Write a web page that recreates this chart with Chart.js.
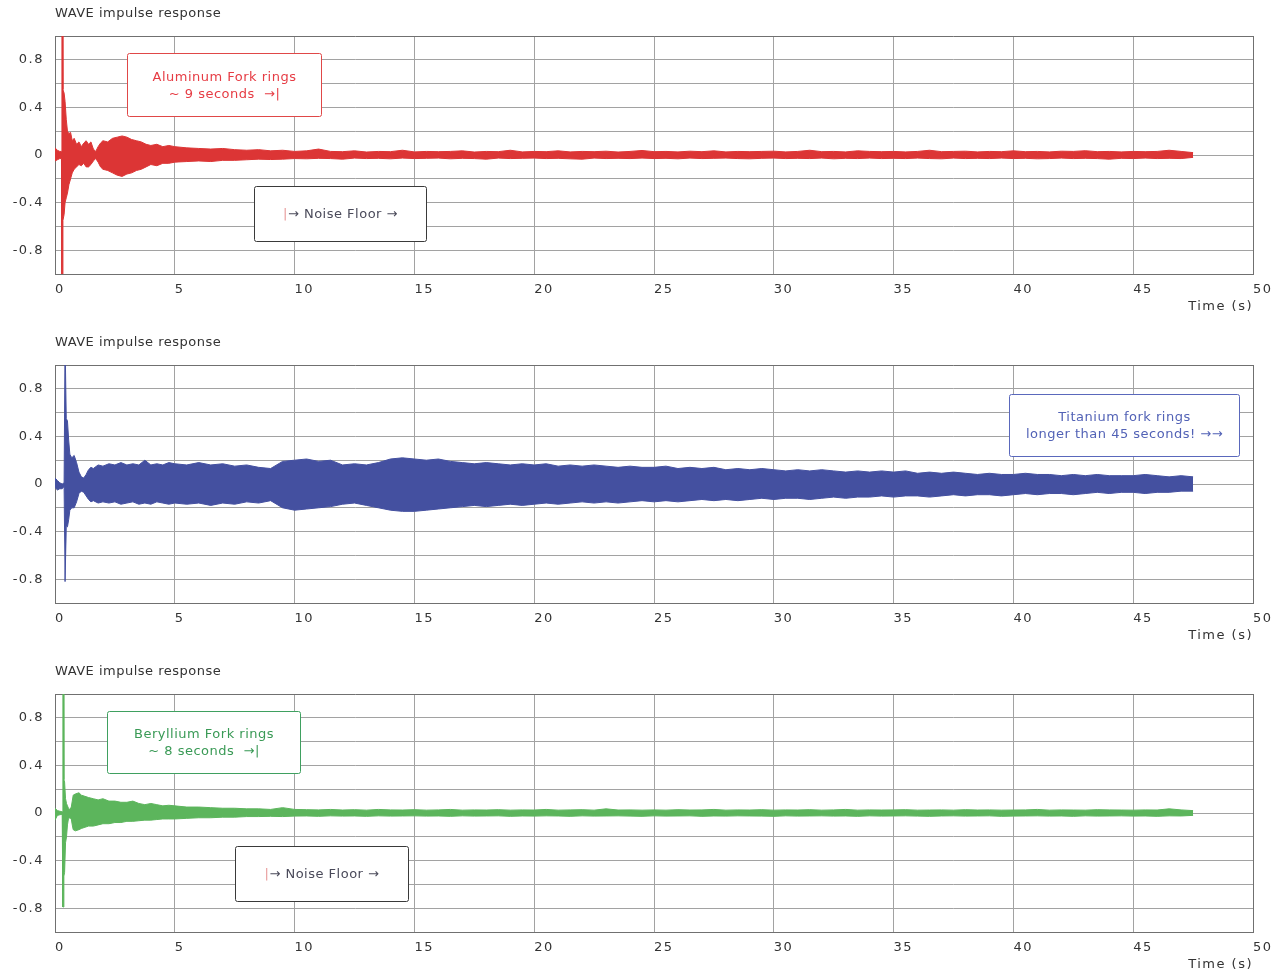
<!DOCTYPE html>
<html>
<head>
<meta charset="utf-8">
<script src="https://cdn.jsdelivr.net/npm/chart.js@4/dist/chart.umd.min.js"></script>
<style>
  html, body { margin: 0; padding: 0; background: #fff; overflow: hidden; }
  .panel { position: absolute; left: 0; width: 1282px; height: 329px; }
</style>
</head>
<body>
<div class="panel" style="top:0px"><canvas id="c1" width="1282" height="329"></canvas></div>
<div class="panel" style="top:329px"><canvas id="c2" width="1282" height="329"></canvas></div>
<div class="panel" style="top:658px"><canvas id="c3" width="1282" height="329"></canvas></div>
<script>
// ---------- DATA (envelope of each impulse response) ----------
const chartTitle = 'WAVE impulse response';
const xAxisTitle = 'Time (s)';
const xTicks = [0, 5, 10, 15, 20, 25, 30, 35, 40, 45, 50];
const yTickLabels = ['-0.8', '-0.4', '0', '0.4', '0.8'];

// shared sample times for the long tail (s)
const tailTime = [
  5, 5.5, 6, 6.5, 7, 7.5, 8, 8.5, 9, 9.5,
  10, 10.5, 11, 11.5, 12, 12.5, 13, 13.5, 14, 14.5,
  15, 15.5, 16, 16.5, 17, 17.5, 18, 18.5, 19, 19.5,
  20, 20.5, 21, 21.5, 22, 22.5, 23, 23.5, 24, 24.5,
  25, 25.5, 26, 26.5, 27, 27.5, 28, 28.5, 29, 29.5,
  30, 30.5, 31, 31.5, 32, 32.5, 33, 33.5, 34, 34.5,
  35, 35.5, 36, 36.5, 37, 37.5, 38, 38.5, 39, 39.5,
  40, 40.5, 41, 41.5, 42, 42.5, 43, 43.5, 44, 44.5,
  45, 45.5, 46, 46.5, 47, 47.5
];

// Aluminum (red)
const alumHeadTime = [0, 0.1, 0.2, 0.27, 0.29, 0.31, 0.33, 0.38, 0.42, 0.47, 0.52, 0.58, 0.65, 0.72, 0.8, 0.9, 1.0, 1.1, 1.2, 1.3, 1.4, 1.5, 1.6, 1.7, 1.8, 1.9, 2.0, 2.2, 2.4, 2.6, 2.8, 3.0, 3.2, 3.4, 3.6, 3.8, 4.0, 4.25, 4.5, 4.75];
const alumHeadHigh = [0.06, 0.04, 0.03, 0.03, 1.2, 1.2, 0.55, 0.52, 0.45, 0.3, 0.2, 0.18, 0.19, 0.12, 0.14, 0.09, 0.11, 0.07, 0.1, 0.12, 0.09, 0.11, 0.05, 0.03, 0.07, 0.1, 0.12, 0.11, 0.14, 0.15, 0.16, 0.15, 0.13, 0.12, 0.11, 0.09, 0.08, 0.09, 0.07, 0.08];
const alumHeadLow = [-0.05, -0.04, -0.03, -0.03, -1.2, -1.2, -0.55, -0.5, -0.4, -0.36, -0.32, -0.25, -0.2, -0.15, -0.12, -0.1, -0.08, -0.09, -0.07, -0.1, -0.1, -0.08, -0.05, -0.03, -0.06, -0.1, -0.12, -0.13, -0.15, -0.17, -0.18, -0.16, -0.15, -0.13, -0.12, -0.1, -0.08, -0.09, -0.07, -0.07];
const alumTailHigh = [
  0.07, 0.06, 0.055, 0.05, 0.055, 0.045, 0.04, 0.045, 0.035, 0.04,
  0.03, 0.035, 0.05, 0.03, 0.028, 0.035, 0.025, 0.03, 0.028, 0.04,
  0.026, 0.03, 0.028, 0.03, 0.035, 0.025, 0.03, 0.028, 0.04, 0.026,
  0.03, 0.028, 0.035, 0.026, 0.03, 0.028, 0.032, 0.025, 0.03, 0.038,
  0.028, 0.03, 0.026, 0.032, 0.028, 0.035, 0.026, 0.03, 0.028, 0.03,
  0.032, 0.026, 0.03, 0.04, 0.028, 0.03, 0.026, 0.035, 0.03, 0.028,
  0.03, 0.026, 0.03, 0.04, 0.028, 0.03, 0.032, 0.026, 0.03, 0.028,
  0.035, 0.028, 0.03, 0.026, 0.032, 0.03, 0.036, 0.028, 0.03, 0.026,
  0.03, 0.028, 0.03, 0.04, 0.03, 0.02
];
const alumTailLow = [
  -0.06, -0.055, -0.05, -0.055, -0.045, -0.045, -0.04, -0.035, -0.038, -0.035,
  -0.03, -0.032, -0.028, -0.03, -0.035, -0.026, -0.03, -0.028, -0.032, -0.026,
  -0.03, -0.028, -0.026, -0.032, -0.028, -0.03, -0.035, -0.026, -0.03, -0.028,
  -0.026, -0.03, -0.028, -0.032, -0.035, -0.026, -0.03, -0.028, -0.03, -0.026,
  -0.03, -0.028, -0.032, -0.026, -0.03, -0.028, -0.026, -0.03, -0.032, -0.028,
  -0.026, -0.03, -0.028, -0.03, -0.026, -0.032, -0.028, -0.03, -0.026, -0.03,
  -0.028, -0.03, -0.026, -0.03, -0.032, -0.026, -0.03, -0.028, -0.03, -0.026,
  -0.03, -0.028, -0.032, -0.03, -0.026, -0.03, -0.028, -0.03, -0.035, -0.028,
  -0.03, -0.026, -0.03, -0.028, -0.03, -0.02
];

// Titanium (blue)
const titHeadTime = [0, 0.1, 0.2, 0.3, 0.38, 0.42, 0.44, 0.47, 0.52, 0.57, 0.62, 0.7, 0.8, 0.9, 1.0, 1.1, 1.2, 1.3, 1.4, 1.5, 1.6, 1.8, 2.0, 2.25, 2.5, 2.75, 3.0, 3.25, 3.5, 3.75, 4.0, 4.25, 4.5, 4.75];
const titHeadHigh = [0.05, 0.03, 0.01, 0.0, 0.01, 1.2, 1.2, 0.55, 0.53, 0.37, 0.25, 0.22, 0.24, 0.18, 0.1, 0.06, 0.05, 0.08, 0.12, 0.14, 0.13, 0.16, 0.15, 0.17, 0.16, 0.18, 0.16, 0.17, 0.16, 0.2, 0.16, 0.17, 0.16, 0.18];
const titHeadLow = [-0.03, -0.05, -0.04, -0.04, -0.02, -0.82, -0.82, -0.35, -0.36, -0.3, -0.22, -0.2, -0.2, -0.15, -0.08, -0.06, -0.07, -0.1, -0.13, -0.15, -0.14, -0.16, -0.15, -0.16, -0.15, -0.17, -0.16, -0.15, -0.17, -0.16, -0.17, -0.15, -0.16, -0.17];
const titTailHigh = [
  0.17, 0.16, 0.18, 0.16, 0.17, 0.15, 0.16, 0.14, 0.13, 0.19,
  0.2, 0.21, 0.19, 0.2, 0.16, 0.17, 0.16, 0.18, 0.21, 0.22,
  0.21, 0.2, 0.21, 0.19, 0.18, 0.17, 0.18, 0.17, 0.16, 0.17,
  0.16, 0.17, 0.15, 0.16, 0.15, 0.16, 0.15, 0.14, 0.15, 0.14,
  0.14, 0.15, 0.13, 0.14, 0.13, 0.14, 0.12, 0.13, 0.12, 0.13,
  0.12, 0.11, 0.12, 0.11, 0.12, 0.11, 0.1, 0.11, 0.1, 0.11,
  0.1, 0.11, 0.09, 0.1, 0.09, 0.1, 0.09, 0.08, 0.09, 0.08,
  0.08, 0.09, 0.08, 0.08, 0.07, 0.08, 0.07, 0.08, 0.07, 0.07,
  0.07, 0.08, 0.07, 0.06, 0.07, 0.06
];
const titTailLow = [
  -0.16, -0.17, -0.16, -0.18, -0.16, -0.17, -0.15, -0.16, -0.14, -0.2,
  -0.22, -0.21, -0.2, -0.19, -0.17, -0.16, -0.18, -0.2, -0.22, -0.23,
  -0.23, -0.22, -0.21, -0.2, -0.19, -0.18, -0.19, -0.18, -0.17, -0.18,
  -0.17, -0.16, -0.17, -0.16, -0.15, -0.16, -0.15, -0.16, -0.15, -0.14,
  -0.15, -0.14, -0.15, -0.14, -0.13, -0.14, -0.13, -0.14, -0.13, -0.12,
  -0.13, -0.12, -0.12, -0.13, -0.12, -0.11, -0.12, -0.11, -0.11, -0.1,
  -0.11, -0.1, -0.1, -0.11, -0.1, -0.09, -0.1, -0.09, -0.09, -0.1,
  -0.09, -0.08, -0.09, -0.08, -0.08, -0.09, -0.08, -0.07, -0.08, -0.07,
  -0.07, -0.08, -0.07, -0.07, -0.06, -0.06
];

// Beryllium (green)
const berHeadTime = [0, 0.1, 0.2, 0.3, 0.33, 0.35, 0.37, 0.4, 0.44, 0.48, 0.52, 0.56, 0.62, 0.68, 0.72, 0.76, 0.85, 1.0, 1.1, 1.25, 1.4, 1.6, 1.8, 2.0, 2.25, 2.5, 2.75, 3.0, 3.25, 3.5, 3.75, 4.0, 4.25, 4.5, 4.75];
const berHeadHigh = [0.04, 0.02, 0.015, 0.01, 1.2, 1.2, 0.28, 0.26, 0.12, 0.08, 0.06, 0.04, 0.03, 0.05, 0.1, 0.15, 0.16, 0.17, 0.15, 0.14, 0.13, 0.12, 0.11, 0.12, 0.1, 0.1, 0.09, 0.09, 0.1, 0.08, 0.07, 0.08, 0.07, 0.06, 0.065];
const berHeadLow = [-0.06, -0.02, -0.015, -0.01, -0.79, -0.79, -0.53, -0.5, -0.25, -0.2, -0.1, -0.05, -0.04, -0.05, -0.1, -0.14, -0.15, -0.14, -0.13, -0.12, -0.11, -0.11, -0.1, -0.09, -0.09, -0.08, -0.08, -0.07, -0.07, -0.065, -0.06, -0.06, -0.055, -0.05, -0.05];
const berTailHigh = [
  0.06, 0.05, 0.05, 0.045, 0.04, 0.04, 0.035, 0.035, 0.03, 0.045,
  0.03, 0.028, 0.026, 0.03, 0.025, 0.028, 0.024, 0.03, 0.026, 0.025,
  0.028, 0.024, 0.026, 0.03, 0.024, 0.026, 0.025, 0.028, 0.024, 0.026,
  0.025, 0.03, 0.024, 0.026, 0.028, 0.024, 0.035, 0.025, 0.026, 0.024,
  0.026, 0.024, 0.028, 0.025, 0.026, 0.03, 0.024, 0.026, 0.025, 0.028,
  0.024, 0.026, 0.025, 0.028, 0.024, 0.026, 0.03, 0.024, 0.026, 0.025,
  0.026, 0.028, 0.024, 0.025, 0.026, 0.024, 0.028, 0.025, 0.026, 0.024,
  0.025, 0.026, 0.03, 0.024, 0.026, 0.025, 0.024, 0.028, 0.026, 0.025,
  0.024, 0.026, 0.025, 0.035, 0.026, 0.02
];
const berTailLow = [
  -0.05, -0.045, -0.04, -0.04, -0.035, -0.035, -0.03, -0.03, -0.028, -0.03,
  -0.026, -0.025, -0.028, -0.024, -0.026, -0.025, -0.028, -0.024, -0.026, -0.025,
  -0.024, -0.026, -0.025, -0.028, -0.024, -0.026, -0.025, -0.024, -0.028, -0.025,
  -0.026, -0.024, -0.025, -0.028, -0.024, -0.026, -0.025, -0.024, -0.026, -0.028,
  -0.024, -0.026, -0.025, -0.024, -0.028, -0.025, -0.026, -0.024, -0.025, -0.026,
  -0.028, -0.024, -0.026, -0.025, -0.024, -0.026, -0.025, -0.028, -0.024, -0.026,
  -0.025, -0.024, -0.026, -0.028, -0.025, -0.024, -0.026, -0.025, -0.024, -0.028,
  -0.026, -0.025, -0.024, -0.026, -0.025, -0.028, -0.024, -0.026, -0.025, -0.024,
  -0.026, -0.025, -0.028, -0.024, -0.025, -0.02
];

// ---------- helpers ----------
function pts(times, values) {
  return times.map((t, i) => ({ x: t, y: values[i] }));
}
const FONT = '"DejaVu Sans", Verdana, sans-serif';

// annotation + title plugin
const notesPlugin = {
  id: 'notes',
  beforeDraw(chart) {
    chart.ctx.letterSpacing = '1.5px';
  },
  afterDatasetsDraw(chart, args, opts) {
    const { ctx, scales: { x, y } } = chart;
    ctx.save();
    ctx.letterSpacing = '0.5px';
    ctx.font = '13px ' + FONT;
    for (const n of opts.items || []) {
      const l = Math.round(x.getPixelForValue(n.x0)) + 0.5;
      const r = Math.round(x.getPixelForValue(n.x1)) + 0.5;
      const t = Math.round(y.getPixelForValue(n.y0)) + 0.5;
      const b = Math.round(y.getPixelForValue(n.y1)) + 0.5;
      ctx.beginPath();
      ctx.roundRect(l, t, r - l, b - t, 2);
      ctx.fillStyle = '#ffffff';
      ctx.fill();
      ctx.lineWidth = 1;
      ctx.strokeStyle = n.border;
      ctx.stroke();
      const cx = (l + r) / 2, cy = (t + b) / 2;
      const lh = 17;
      const y0 = cy - (n.lines.length - 1) * lh / 2 + 1;
      ctx.textBaseline = 'middle';
      n.lines.forEach((line, i) => {
        const widths = line.map(s => ctx.measureText(s[0]).width);
        const total = widths.reduce((a, c) => a + c, 0);
        let xx = cx - total / 2;
        ctx.textAlign = 'left';
        line.forEach((s, j) => {
          ctx.fillStyle = s[1];
          ctx.fillText(s[0], xx, y0 + i * lh);
          xx += widths[j];
        });
      });
    }
    ctx.restore();
  },
  afterDraw(chart) {
    const { ctx, chartArea } = chart;
    ctx.save();
    ctx.letterSpacing = '0.5px';
    ctx.font = '13px ' + FONT;
    ctx.fillStyle = '#333333';
    ctx.textAlign = 'left';
    ctx.textBaseline = 'middle';
    ctx.fillText(chartTitle, chartArea.left, chartArea.top - 22);
    ctx.restore();
  }
};

function makeChart(id, color, time, high, low, notes) {
  return new Chart(document.getElementById(id), {
    type: 'line',
    data: {
      datasets: [
        { data: pts(time, high), borderColor: color, backgroundColor: color, borderWidth: 1, pointRadius: 0, fill: '+1', tension: 0 },
        { data: pts(time, low), borderColor: color, backgroundColor: color, borderWidth: 1, pointRadius: 0, fill: false, tension: 0 }
      ]
    },
    options: {
      responsive: false,
      animation: false,
      events: [],
      layout: { padding: { top: 36, right: 29, left: 0, bottom: 0 } },
      plugins: {
        legend: { display: false },
        tooltip: { enabled: false },
        title: { display: false },
        notes: { items: notes }
      },
      scales: {
        x: {
          type: 'linear',
          min: 0, max: 50,
          afterBuildTicks: s => { s.ticks = xTicks.map(v => ({ value: v })); },
          afterFit: s => { s.height = 55; },
          ticks: {
            align: 'start', padding: 8, maxRotation: 0, autoSkip: false,
            color: '#333333', font: { family: FONT, size: 13 },
            callback: v => String(v)
          },
          grid: {
            drawTicks: false,
            color: c => (c.tick && (c.tick.value === 0 || c.tick.value === 50)) ? '#707070' : '#a2a2a2'
          },
          border: { color: '#707070', width: 1 },
          title: {
            display: true, text: xAxisTitle, align: 'end', color: '#333333',
            font: { family: FONT, size: 13 }, padding: { top: 0, bottom: 15 }
          }
        },
        y: {
          min: -1, max: 1,
          afterFit: s => { s.width = 55; },
          ticks: {
            stepSize: 0.2, padding: 11, autoSkip: false,
            color: '#333333', font: { family: FONT, size: 13 },
            callback: v => {
              const s = String(Math.round(v * 10) / 10);
              return yTickLabels.includes(s) ? s : '';
            }
          },
          grid: {
            drawTicks: false,
            color: c => (c.tick && Math.abs(Math.abs(c.tick.value) - 1) < 1e-6) ? '#707070' : '#a2a2a2'
          },
          border: { color: '#707070', width: 1 }
        }
      }
    },
    plugins: [notesPlugin]
  });
}

const noiseLine = [['|', '#e89a9a'], ['\u2192 Noise Floor \u2192', '#4a4a5a']];

makeChart('c1', '#dc3535',
  alumHeadTime.concat(tailTime), alumHeadHigh.concat(alumTailHigh), alumHeadLow.concat(alumTailLow),
  [
    { x0: 3.0, x1: 11.1, y0: 0.857, y1: 0.328, border: '#e04848',
      lines: [[['Aluminum Fork rings', '#e63c44']], [['~ 9 seconds  \u2192|', '#e63c44']]] },
    { x0: 8.3, x1: 15.48, y0: -0.26, y1: -0.723, border: '#3a3a3a', lines: [noiseLine] }
  ]);

makeChart('c2', '#4450a0',
  titHeadTime.concat(tailTime), titHeadHigh.concat(titTailHigh), titHeadLow.concat(titTailLow),
  [
    { x0: 39.8, x1: 49.4, y0: 0.756, y1: 0.235, border: '#5a68bc',
      lines: [[['Titanium fork rings', '#5262b6']], [['longer than 45 seconds! \u2192\u2192', '#5262b6']]] }
  ]);

makeChart('c3', '#5cb55c',
  berHeadTime.concat(tailTime), berHeadHigh.concat(berTailHigh), berHeadLow.concat(berTailLow),
  [
    { x0: 2.17, x1: 10.22, y0: 0.857, y1: 0.336, border: '#3fa060',
      lines: [[['Beryllium Fork rings', '#3a9a56']], [['~ 8 seconds  \u2192|', '#3a9a56']]] },
    { x0: 7.51, x1: 14.73, y0: -0.277, y1: -0.74, border: '#3a3a3a', lines: [noiseLine] }
  ]);
</script>
</body>
</html>
